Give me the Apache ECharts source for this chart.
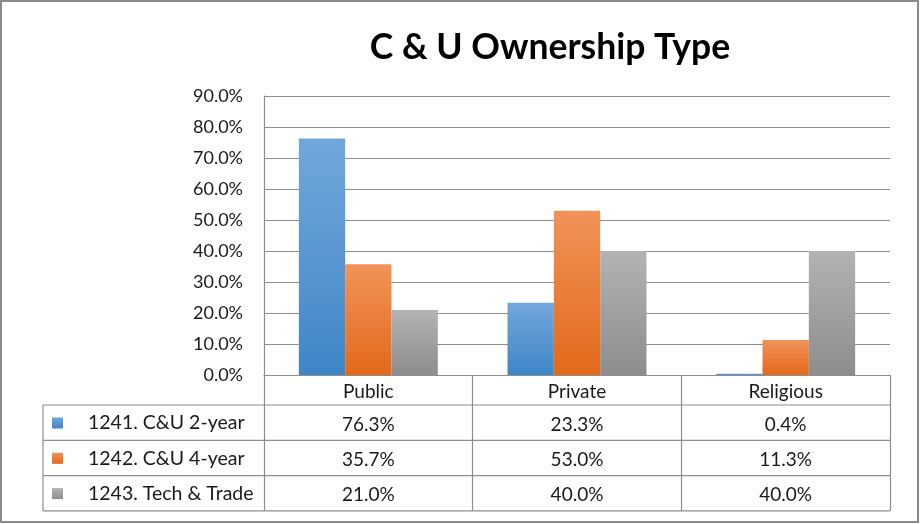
<!DOCTYPE html>
<html>
<head>
<meta charset="utf-8">
<script src="https://cdn.jsdelivr.net/npm/echarts@6/dist/echarts.min.js"></script>
<style>
html,body{margin:0;padding:0;background:#fff;}
#chart{width:920px;height:524px;}
</style>
</head>
<body>
<div id="chart"></div>
<script>
const categories = ['Public', 'Private', 'Religious'];
const seriesNames = ['1241. C&U 2-year', '1242. C&U 4-year', '1243. Tech & Trade'];
const cu2year = [76.3, 23.3, 0.4];
const cu4year = [35.7, 53.0, 11.3];
const techTrade = [21.0, 40.0, 40.0];
const yMax = 90;
const yInterval = 10;

const FONT = 'Lato';
const LINE = '#8e8e8e';
const W = 920, H = 524;
const gridLeft = 264, gridRight = 890, gridTop = 96, gridBottom = 375;
const headerH = 30, rowH = 35.3, tableLeft = 43;
const tableBottom = gridBottom + headerH + rowH * 3;

const seriesData = [cu2year, cu4year, techTrade];
const gradients = [
  ['#72a7dc', '#3f86c7'],
  ['#f2935a', '#e2691a'],
  ['#b3b3b3', '#8d8d8d']
];
const fmt = v => v.toFixed(1) + '%';

const chart = echarts.init(document.getElementById('chart'), null, {renderer: 'canvas'});

const series = seriesData.map((d, i) => ({
  name: seriesNames[i],
  type: 'bar',
  data: d,
  barGap: '0%',
  barCategoryGap: '33.4%',
  itemStyle: {
    color: new echarts.graphic.LinearGradient(0, 0, 0, 1, [
      {offset: 0, color: gradients[i][0]},
      {offset: 1, color: gradients[i][1]}
    ])
  }
}));

const hLines = [];
for (let r = 1; r <= 4; r++) {
  const y = gridBottom + headerH + rowH * (r - 1);
  hLines.push({
    type: 'line',
    shape: {x1: tableLeft, y1: y, x2: gridRight, y2: y},
    style: {stroke: LINE, lineWidth: 1.2}
  });
}
hLines.push({
  type: 'line',
  shape: {x1: tableLeft, y1: gridBottom + headerH, x2: tableLeft, y2: tableBottom},
  style: {stroke: LINE, lineWidth: 1.2}
});
hLines.push({
  type: 'rect',
  shape: {x: 1, y: 1, width: W - 3, height: H - 3},
  style: {stroke: '#8a8a8a', lineWidth: 2, fill: null}
});

const option = {
  backgroundColor: '#fff',
  animation: false,
  title: {
    text: 'C & U Ownership Type',
    left: 545,
    textAlign: 'center',
    top: 25,
    textStyle: {fontFamily: FONT, fontWeight: 'bold', fontSize: 35.5, color: '#000'}
  },
  legend: {
    orient: 'vertical',
    left: 52,
    top: gridBottom + headerH + 8,
    padding: 0,
    itemWidth: 11,
    itemHeight: 11,
    itemGap: 15.3,
    icon: 'rect',
    selectedMode: false,
    textStyle: {fontFamily: FONT, fontSize: 19.5, color: '#1a1a1a', lineHeight: 20, padding: [0, 0, 0, 20]}
  },
  grid: {left: gridLeft, right: W - gridRight, top: gridTop, bottom: H - gridBottom, containLabel: false},
  xAxis: {
    type: 'category',
    data: categories,
    axisLine: {show: true, lineStyle: {color: LINE, width: 1.2}},
    axisTick: {show: true, length: tableBottom - gridBottom, lineStyle: {color: LINE, width: 1.2}},
    axisLabel: {
      margin: 2,
      interval: 0,
      formatter: (value, idx) => '{h|' + value + '}\n' + seriesData.map(d => '{v|' + fmt(d[idx]) + '}').join('\n'),
      rich: {
        h: {fontFamily: FONT, fontSize: 19, color: '#1a1a1a', lineHeight: headerH, height: headerH},
        v: {fontFamily: FONT, fontSize: 19, color: '#1a1a1a', lineHeight: rowH, height: rowH}
      }
    }
  },
  yAxis: {
    type: 'value',
    min: 0,
    max: yMax,
    interval: yInterval,
    axisLine: {show: true, lineStyle: {color: LINE, width: 1.2}},
    axisTick: {show: false},
    axisLabel: {
      margin: 21,
      padding: [6, 0, 0, 0],
      formatter: v => v.toFixed(1) + '%',
      fontFamily: FONT, fontSize: 18, color: '#1a1a1a'
    },
    splitLine: {show: true, lineStyle: {color: LINE, width: 1.2}}
  },
  series: series,
  graphic: hLines
};
chart.setOption(option);
</script>
</body>
</html>
